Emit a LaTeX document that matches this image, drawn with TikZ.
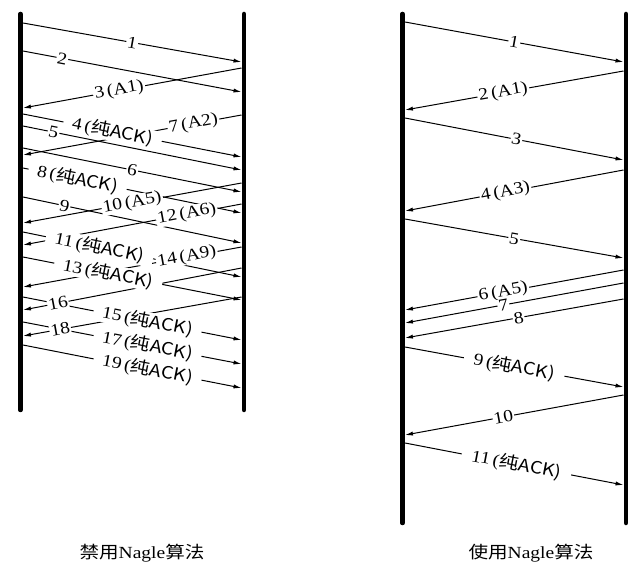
\documentclass[tikz,border=0pt]{standalone}
\usepackage{fontspec}
\setmainfont{Liberation Serif}[FakeStretch=1.15]
\newfontfamily\cjk{Noto Sans CJK SC}[FakeStretch=1.15]
\usetikzlibrary{arrows.meta}
\tikzset{
  tline/.style={line width=4.5pt,line cap=round},
  msg/.style={line width=1pt,-{Latex[length=8pt,width=4.2pt]}},
  lbl/.style={sloped,fill=white,inner ysep=0.3pt},
  captxt/.style={inner sep=0pt}
}
\def\leftlist{
1/23/23/241.5/62/0.50/1pt/1,
2/23/51/241.5/92/0.18/1pt/2,
3/241.5/68/23/108/0.56/1.5pt/{3\,(A1)},
4/23/114/241.5/157/0.41/9pt/{4\,(\cjk{纯}ACK)},
5/23/126/241.5/170/0.14/1pt/5,
6/23/148/241.5/192/0.50/1pt/6,
7/241.5/115/23/155/0.22/1.5pt/{7\,(A2)},
8/23/168/241.5/213/0.25/9pt/{8\,(\cjk{纯}ACK)},
9/23/197/241.5/243/0.19/1pt/9,
10/241.5/183/23/223/0.50/1.5pt/{10\,(A5)},
11/23/232/241.5/277/0.35/9pt/{11\,(\cjk{纯}ACK)},
12/241.5/204/23/245/0.25/1.5pt/{12\,(A6)},
13/23/257/241.5/300/0.39/9pt/{13\,(\cjk{纯}ACK)},
14/241.5/247/23/287/0.25/1.5pt/{14\,(A9)},
15/23/297/241.5/340/0.57/9pt/{15\,(\cjk{纯}ACK)},
16/241.5/268/23/310/0.84/1pt/16,
17/23/322/241.5/364/0.57/9pt/{17\,(\cjk{纯}ACK)},
18/241.5/297/23/336/0.83/1pt/18,
19/23/345/241.5/388/0.57/9pt/{19\,(\cjk{纯}ACK)}}
\def\rightlist{
1/405/22/623.5/62/0.50/1pt/1,
2/623.5/71/405/110/0.55/1.5pt/{2\,(A1)},
3/405/118/623.5/160/0.51/1pt/3,
4/623.5/170/405/211/0.54/1.5pt/{4\,(A3)},
5/405/219/623.5/258/0.50/1pt/5,
6/623.5/270/405/310/0.55/1.5pt/{6\,(A5)},
7/623.5/283/405/323/0.55/1pt/7,
8/623.5/299/405/338/0.48/1pt/8,
9/405/347/623.5/387/0.50/10pt/{9\,(\cjk{纯}ACK)},
10/623.5/395/405/435/0.55/1pt/10,
11/405/443/623.5/485/0.51/10pt/{11\,(\cjk{纯}ACK)}}
\begin{document}
\begin{tikzpicture}[x=1pt,y=-1pt,font=\fontsize{17}{17}\selectfont]
\useasboundingbox (0,0) rectangle (643,577);
\fill[white] (0,0) rectangle (643,577);
% connectors first
\foreach \i/\ax/\ay/\bx/\by/\pp/\xs/\lab in \leftlist {
  \coordinate (La\i) at (\ax,\ay);
  \coordinate (Lb\i) at (\bx,\by);
  \draw[msg] (La\i) -- (Lb\i);
}
\foreach \i/\ax/\ay/\bx/\by/\pp/\xs/\lab in \rightlist {
  \coordinate (Ra\i) at (\ax,\ay);
  \coordinate (Rb\i) at (\bx,\by);
  \draw[msg] (Ra\i) -- (Rb\i);
}
% labels on top
\foreach \i/\ax/\ay/\bx/\by/\pp/\xs/\lab in \leftlist {
  \path (La\i) -- node[lbl,pos=\pp,inner xsep=\xs] (Ll\i) {\lab} (Lb\i);
}
\foreach \i/\ax/\ay/\bx/\by/\pp/\xs/\lab in \rightlist {
  \path (Ra\i) -- node[lbl,pos=\pp,inner xsep=\xs] (Rl\i) {\lab} (Rb\i);
}
% time lines
\coordinate (LAt) at (20.5,14);  \coordinate (LAb) at (20.5,410);
\coordinate (LBt) at (244,14);   \coordinate (LBb) at (244,410);
\coordinate (RAt) at (402.5,14); \coordinate (RAb) at (402.5,523);
\coordinate (RBt) at (626,14);   \coordinate (RBb) at (626,523);
\draw[tline] (LAt) -- (LAb);
\draw[tline] (LBt) -- (LBb);
\draw[tline] (RAt) -- (RAb);
\draw[tline] (RBt) -- (RBb);
% captions
\node[captxt] (capL) at (142,553) {{\cjk 禁用}Nagle{\cjk 算法}};
\node[captxt] (capR) at (531,553) {{\cjk 使用}Nagle{\cjk 算法}};
\end{tikzpicture}
\end{document}
